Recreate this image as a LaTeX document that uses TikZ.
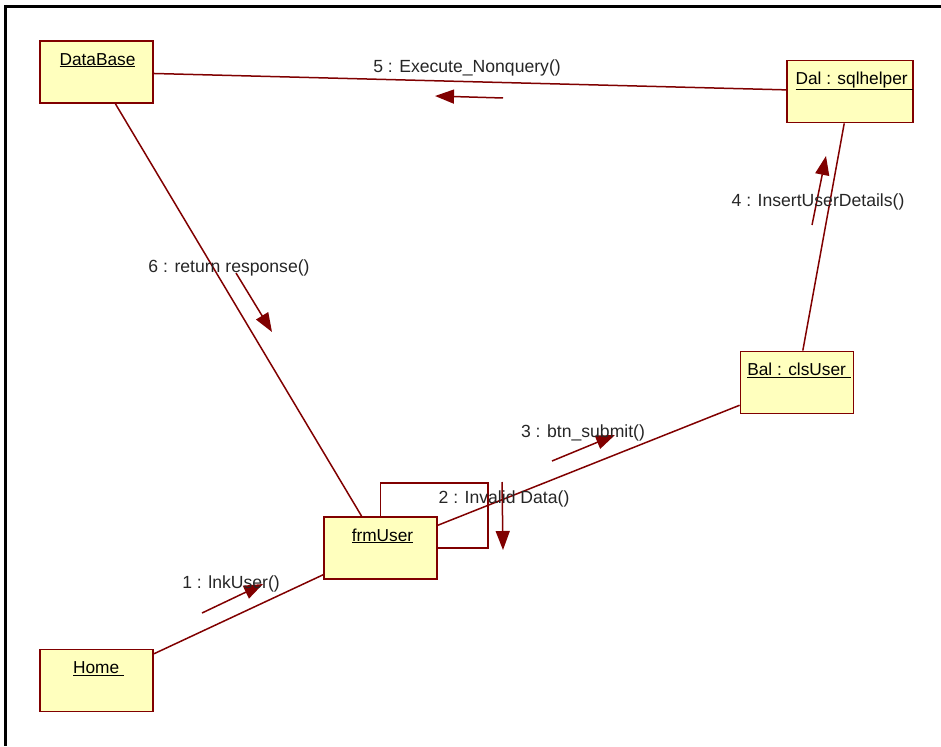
\documentclass[tikz,border=0pt]{standalone}
\usepackage{fontspec}
\setmainfont{Liberation Sans}
\usetikzlibrary{arrows.meta,calc}
\definecolor{umlred}{RGB}{128,0,0}
\definecolor{umlfill}{RGB}{255,255,190}
\begin{document}
\begin{tikzpicture}[x=1pt,y=-1pt,
  obj/.style={draw=umlred,line width=1.8pt,fill=umlfill,rectangle,
    minimum width=113pt,minimum height=62pt,inner sep=0pt},
  objname/.style={font=\fontsize{17.3}{20}\selectfont,inner sep=0pt,anchor=base},
  link/.style={draw=umlred,line width=1.5pt},
  msg/.style={draw=umlred,line width=1.5pt,-{Triangle[length=19pt,width=14pt]}},
  msglabel/.style={font=\fontsize{17.6}{20}\selectfont,inner sep=0pt,text=black!85}]
\useasboundingbox (0,0) rectangle (941,746);
% diagram frame (top and left edges)
\draw[line width=3pt] (4,6.5) -- (941,6.5);
\draw[line width=3pt] (5.5,5) -- (5.5,746);

% objects
\node[obj] (db)   at (96.5,72)  {};
\node[obj,minimum width=126pt] (dal) at (850,91.5) {};
\node[obj] (bal)  at (797,382.5){};
\node[obj] (frm)  at (380.5,548){};
\node[obj] (home) at (96.5,680.5){};

\node[objname] (dbn)   at ($(db.north)+(1,25)$)   {\underline{DataBase}};
\node[objname] (daln)  at ($(dal.north)+(4,25)$)  {\underline{Dal : sqlhelper\ }};
\node[objname] (baln)  at ($(bal.north)+(2,25)$)  {\underline{Bal : clsUser\ }};
\node[objname] (frmn)  at ($(frm.north)+(2,25)$)  {\underline{frmUser}};
\node[objname] (homen) at ($(home.north)+(2,25)$) {\underline{Home\ }};

% links
\draw[link] (db) -- (dal);
\draw[link] (db) -- (frm);
\draw[link] (dal) -- (bal);
\draw[link] (bal) -- (frm);
\draw[link] (frm) -- (home);
% self link on frmUser
\draw[link] (frm.north) -- ++(0,-33) -| ($(frm.east)+(50,0)$) -- (frm.east);

% message arrows
\coordinate (m1a) at (202,613); \coordinate (m1b) at (263,584);
\coordinate (m2a) at (502,482); \coordinate (m2b) at (503,550);
\coordinate (m3a) at (552,461); \coordinate (m3b) at (615,435);
\coordinate (m4a) at (812,225); \coordinate (m4b) at (826,156);
\coordinate (m5a) at (503,98);  \coordinate (m5b) at (435,96);
\coordinate (m6a) at (236,273); \coordinate (m6b) at (272,332);
\draw[msg] (m1a) -- (m1b);
\draw[msg] (m2a) -- (m2b);
\draw[msg] (m3a) -- (m3b);
\draw[msg] (m4a) -- (m4b);
\draw[msg] (m5a) -- (m5b);
\draw[msg] (m6a) -- (m6b);

% message labels
\node[msglabel] (l1) at (231,584) {1 : lnkUser()};
\node[msglabel] (l2) at (504,499) {2 : Invalid Data()};
\node[msglabel] (l3) at (583,433) {3 : btn\_submit()};
\node[msglabel] (l4) at (818,202) {4 : InsertUserDetails()};
\node[msglabel] (l5) at (467,68)  {5 : Execute\_Nonquery()};
\node[msglabel] (l6) at (229,268) {6 : return response()};
\end{tikzpicture}
\end{document}
